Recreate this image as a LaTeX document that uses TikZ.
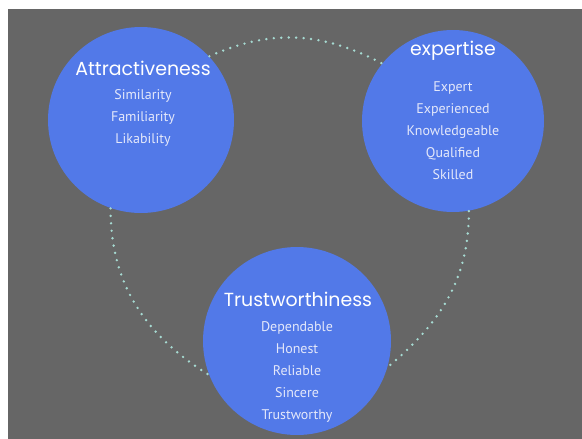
\documentclass[tikz,border=0pt]{standalone}
\usepackage{fontspec}
\setmainfont{PT Sans}
\newfontfamily\headfont{Poppins}

\definecolor{backgrey}{RGB}{102,102,102}
\definecolor{bubbleblue}{RGB}{82,121,232}
\definecolor{itemtext}{RGB}{228,232,250}
\definecolor{dotteal}{RGB}{166,218,210}

\tikzset{every picture/.style={line width=0.75pt}}

\begin{document}
\begin{tikzpicture}[x=0.75pt,y=0.75pt,yscale=-1,xscale=1,
  bubble/.style={circle,fill=bubbleblue,inner sep=0pt,minimum size=#1},
  head/.style={text=white,font=\headfont\fontsize{14.2}{17}\selectfont},
  items/.style={text=itemtext,align=center,font=\fontsize{10.5}{16.5}\selectfont},
  link/.style={draw=dotteal,line width=2pt,line cap=round,dash pattern=on 0pt off 5.6pt}]
\useasboundingbox (0,0) rectangle (582,439);

%Background
\fill [white] (0,0) rectangle (582,439);
\fill [backgrey] (8,9) rectangle (582,439);

%Circles
\node [bubble=139.5pt] (attr) at (141,120) {};
\node [bubble=136.5pt] (expert) at (453,121) {};
\node [bubble=141pt] (trust) at (297,341) {};

%Dotted links
\draw [link] (attr.43) to[out=-24,in=-152] (expert.141);
\draw [link] (attr.251) to[out=90,in=-148] (trust.201);
\draw [link] (expert.280) to[out=90,in=-40] (trust.344);

% Text Node
\node [head] (attrhead) at (143,68) {Attractiveness};
\node [items] (attritems) at (143,118) {Similarity\\Familiarity\\Likability};
% Text Node
\node [head] (experthead) at (453,51) {expertise};
\node [items] (expertitems) at (453,131) {Expert\\Experienced\\Knowledgeable\\Qualified\\Skilled};
% Text Node
\node [head] (trusthead) at (298,299) {Trustworthiness};
\node [items] (trustitems) at (297,372) {Dependable\\Honest\\Reliable\\Sincere\\Trustworthy};

\end{tikzpicture}
\end{document}
